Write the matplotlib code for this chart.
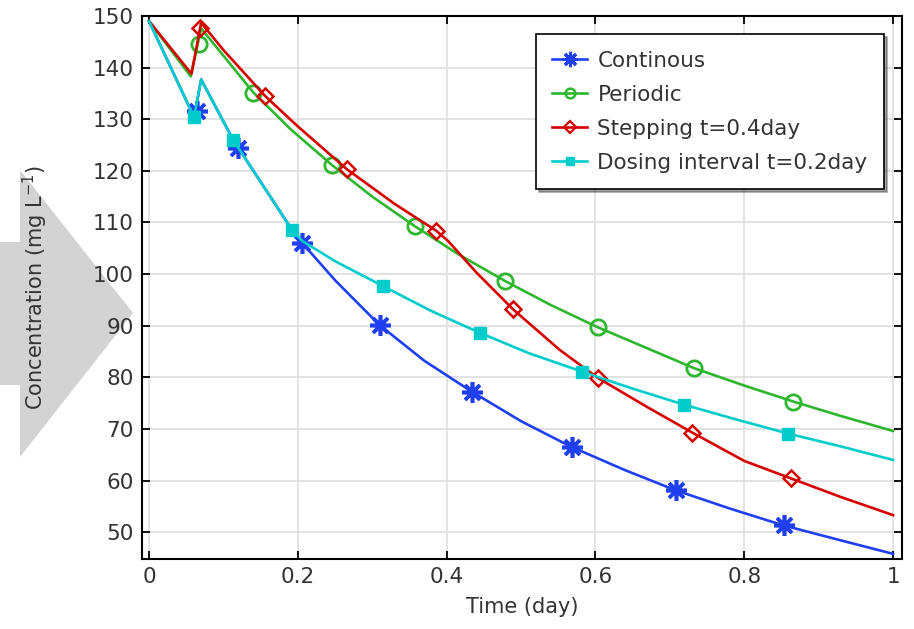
import matplotlib
matplotlib.use("Agg")
import matplotlib.pyplot as plt
from matplotlib.patches import Polygon
from matplotlib.lines import Line2D

# Continuous dosing (blue) - follows the dosing-interval curve until ~0.2 day
t_cont = [0.0, 0.0605, 0.07, 0.113, 0.192, 0.206, 0.25, 0.31, 0.37, 0.434, 0.5, 0.568, 0.64, 0.708, 0.78, 0.853, 0.93, 1.0]
c_cont = [149.0, 130.4, 137.7, 126.0, 108.6, 106.0, 98.8, 90.1, 83.2, 77.2, 71.5, 66.5, 62.0, 58.1, 54.6, 51.3, 48.4, 45.8]
t_cont_mk = [0.0645, 0.12, 0.206, 0.31, 0.434, 0.568, 0.708, 0.853]
c_cont_mk = [131.6, 124.4, 106.0, 90.1, 77.2, 66.5, 58.1, 51.3]

# Periodic (green)
t_per = [0.0, 0.056, 0.07, 0.1, 0.14, 0.19, 0.246, 0.3, 0.357, 0.415, 0.478, 0.54, 0.603, 0.67, 0.732, 0.8, 0.866, 0.93, 1.0]
c_per = [149.0, 138.3, 147.6, 142.3, 135.2, 128.1, 121.1, 115.0, 109.3, 103.9, 98.7, 94.0, 89.7, 85.6, 81.8, 78.4, 75.3, 72.5, 69.6]
t_per_mk = [0.067, 0.14, 0.246, 0.357, 0.478, 0.603, 0.732, 0.866]
c_per_mk = [144.6, 135.0, 121.1, 109.3, 98.7, 89.7, 81.8, 75.3]

# Stepping t=0.4day (red)
t_step = [0.0, 0.057, 0.07, 0.1, 0.156, 0.2, 0.266, 0.33, 0.386, 0.402, 0.44, 0.489, 0.552, 0.603, 0.67, 0.73, 0.8, 0.863, 0.93, 1.0]
c_step = [149.0, 138.8, 148.7, 143.4, 134.5, 128.6, 120.3, 113.6, 108.4, 106.4, 100.3, 93.2, 85.3, 79.9, 74.2, 69.3, 63.8, 60.4, 56.8, 53.3]
t_step_mk = [0.0685, 0.156, 0.266, 0.386, 0.489, 0.603, 0.73, 0.863]
c_step_mk = [147.6, 134.5, 120.3, 108.4, 93.2, 79.9, 69.3, 60.4]

# Dosing interval t=0.2day (cyan)
t_dose = [0.0, 0.0605, 0.07, 0.113, 0.192, 0.206, 0.25, 0.314, 0.38, 0.445, 0.51, 0.582, 0.65, 0.719, 0.79, 0.859, 0.93, 1.0]
c_dose = [149.0, 130.4, 137.7, 126.0, 108.6, 106.4, 102.5, 97.7, 92.8, 88.6, 84.7, 81.1, 77.8, 74.7, 71.8, 69.1, 66.6, 64.0]
t_dose_mk = [0.0605, 0.113, 0.192, 0.314, 0.445, 0.582, 0.719, 0.859]
c_dose_mk = [130.4, 126.0, 108.6, 97.7, 88.6, 81.1, 74.7, 69.1]

col_blue = '#1f3ff0'
col_green = '#2eb62e'
col_red = '#d60000'
col_cyan = '#00cccc'
txt_col = '#333333'

fig = plt.figure(figsize=(9.14, 6.29), dpi=100)

# grey arrow behind the y label
W, H = 914.0, 629.0
arrow_px = [(0, 242), (20, 242), (20, 170), (133, 313), (20, 457), (20, 385), (0, 385)]
fig.patches.append(Polygon([(x / W, 1 - y / H) for x, y in arrow_px], closed=True,
                           transform=fig.transFigure, facecolor='#d3d3d3',
                           edgecolor='none', zorder=-5))

ax = fig.add_axes([142 / W, 1 - 559 / H, 760 / W, 543 / H])
ax.patch.set_alpha(0.0)

lw = 1.9
ax.plot(t_cont, c_cont, color=col_blue, lw=lw, zorder=3)
ax.plot(t_cont_mk, c_cont_mk, ls='none', marker=(8, 2, 0), ms=15, mew=2.6,
        color=col_blue, zorder=3)
ax.plot(t_per, c_per, color=col_green, lw=lw, zorder=4)
ax.plot(t_per_mk, c_per_mk, ls='none', marker='o', ms=11, mew=2, mfc='none',
        mec=col_green, zorder=4)
ax.plot(t_step, c_step, color=col_red, lw=lw, zorder=5)
ax.plot(t_step_mk, c_step_mk, ls='none', marker='D', ms=8.5, mew=1.8, mfc='none',
        mec=col_red, zorder=5)
ax.plot(t_dose, c_dose, color=col_cyan, lw=lw, zorder=6)
ax.plot(t_dose_mk, c_dose_mk, ls='none', marker='s', ms=9, color=col_cyan, zorder=6)

ax.set_xlim(-0.0095, 1.012)
ax.set_ylim(44.8, 150.0)
ax.set_xticks([0, 0.2, 0.4, 0.6, 0.8, 1.0])
ax.set_xticklabels(['0', '0.2', '0.4', '0.6', '0.8', '1'])
ax.set_yticks(range(50, 151, 10))

ax.grid(True, color='#e0e0e0', lw=1.3)
ax.set_axisbelow(True)
for s in ax.spines.values():
    s.set_linewidth(1.5)
    s.set_color('black')
ax.tick_params(direction='in', length=6, width=1.3, top=True, right=True,
               labelsize=15.5, labelcolor=txt_col, pad=6)

ax.set_xlabel('Time (day)', fontsize=15, color=txt_col, labelpad=7)
ax.set_ylabel('Concentration (mg L$^{-1}$)', fontsize=15, color=txt_col, labelpad=31)

handles = [
    Line2D([], [], color=col_blue, lw=lw, marker=(8, 2, 0), ms=11, mew=2.2),
    Line2D([], [], color=col_green, lw=lw, marker='o', ms=7, mew=1.8, mfc='none'),
    Line2D([], [], color=col_red, lw=lw, marker='D', ms=6, mew=1.6, mfc='none'),
    Line2D([], [], color=col_cyan, lw=lw, marker='s', ms=6),
]
labels = ['Continous', 'Periodic', 'Stepping t=0.4day', 'Dosing interval t=0.2day']
leg = ax.legend(handles, labels, loc='upper right', bbox_to_anchor=(0.976, 0.966),
                fontsize=15.5, frameon=True, fancybox=False, shadow=True,
                edgecolor='black', handlelength=1.6, handletextpad=0.5,
                labelspacing=0.65, borderpad=0.75, borderaxespad=0.0)
leg.get_frame().set_linewidth(1.2)
for t in leg.get_texts():
    t.set_color(txt_col)

fig.savefig('out.png', dpi=100)
